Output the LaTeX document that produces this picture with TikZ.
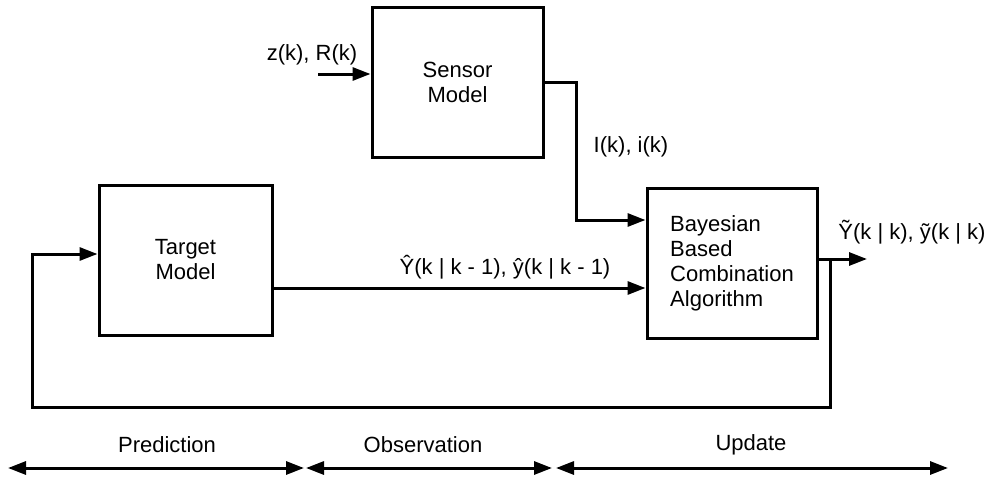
\documentclass[tikz,border=0pt]{standalone}
\usepackage{fontspec}
\setmainfont{Liberation Sans}
\usetikzlibrary{arrows.meta}
\tikzset{
  blk/.style={draw, line width=3pt, minimum width=171pt, minimum height=150pt,
              inner sep=0pt, font=\fontsize{22}{25}\selectfont, align=center},
  wire/.style={line width=3pt},
  tip/.style={},
  arr/.style={wire, -{Triangle[length=18pt,width=13pt]}},
  darr/.style={wire, {Triangle[length=18pt,width=13pt]}-{Triangle[length=18pt,width=13pt]}},
  lbl/.style={font=\fontsize{22}{25}\selectfont, inner sep=0pt}
}
\begin{document}
\begin{tikzpicture}[x=1pt,y=-1pt]
\useasboundingbox (0,0) rectangle (989,477);

% blocks
\node[blk] (sensor) at (457.5,82) {Sensor\\Model};
\node[blk, minimum width=173pt] (target) at (185.5,260) {Target\\Model};
\node[blk, minimum width=170pt, align=left] (bayes) at (732,263)
  {Bayesian\\Based\\Combination\\Algorithm};

% sensor input
\coordinate (zin) at (318,74);
\node[lbl] (zlab) at (312,55) {z(k), R(k)};
\draw[arr] (zin) -- (zin -| sensor.west);

% sensor to combination
\coordinate (sbend) at (576,82);
\draw[arr] (sensor.east) -- (sbend) |- ([yshift=43pt]bayes.west);
\node[lbl] (ilab) at (631,147) {I(k), i(k)};

% prediction to combination
\draw[arr] ([yshift=-28pt]target.east) -- ([yshift=-28pt]target.east -| bayes.west);
\node[lbl] (plab) at (505,267) {Ŷ(k | k - 1), ŷ(k | k - 1)};

% output and feedback loop
\coordinate (out) at (867,259);
\coordinate (tap) at (830,259);
\coordinate (fbr) at (830,407);
\coordinate (fbl) at (32,407);
\draw[arr] (bayes.east |- out) -- (out);
\node[lbl] (olab) at (912,232) {Ỹ(k | k), ỹ(k | k)};
\draw[arr] (tap) -- (fbr) -- (fbl) |- ([yshift=6pt]target.west);

% phase markers
\node[lbl] (pred) at (167,445) {Prediction};
\node[lbl] (obs) at (423,445) {Observation};
\node[lbl] (upd) at (751,445) {Update};
\coordinate (a0) at (8,468);
\coordinate (a1) at (304,468);
\coordinate (a2) at (306,468);
\coordinate (a3) at (552,468);
\coordinate (a4) at (556,468);
\coordinate (a5) at (948,468);
\draw[darr] (a0) -- (a1);
\draw[darr] (a2) -- (a3);
\draw[darr] (a4) -- (a5);
\end{tikzpicture}
\end{document}
